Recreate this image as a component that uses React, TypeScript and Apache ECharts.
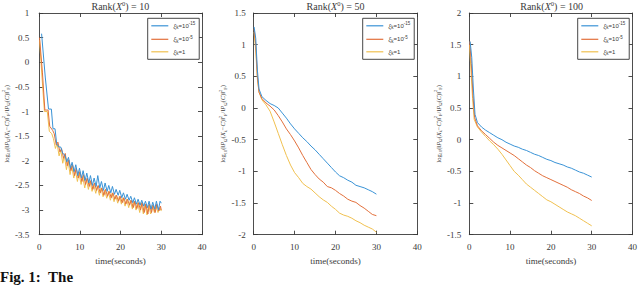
import React, { useEffect, useRef } from 'react';
import * as echarts from 'echarts';

const xTicks = { min: 0, max: 40, interval: 10 };
const panelRanks = ['10', '50', '100'];
const yRanges = [
  { min: -3.5, max: 1 },
  { min: -2, max: 1.5 },
  { min: -1.5, max: 2 },
];
const seriesNames = ['xi15', 'xi5', 'xi1'];
const legendLabels: Record<string, string> = {
  xi15: '{g|ξ}{s|k}{n|=10}{p|-15}',
  xi5: '{g|ξ}{s|k}{n|=10}{p|-5}',
  xi1: '{g|ξ}{s|k}{n|=1}',
};
const colors = ['#3a93d6', '#e2703c', '#f0c050'];

const r10Blue = [[0.6,0.58],[1.5,-0.3],[2.3,-0.95],[3.0,-0.95],[3.4,-1.35],[3.9,-1.35],[4.3,-1.65],[4.8,-1.72],[5.3,-1.72],[5.8,-1.85],[6.3,-1.88],[6.8,-2.02],[7.2,-1.93],[7.7,-2.15],[8.1,-2.03],[8.6,-2.22],[9.0,-2.08],[9.5,-2.3],[9.9,-2.15],[10.4,-2.35],[10.8,-2.2],[11.3,-2.4],[11.7,-2.25],[12.2,-2.45],[12.6,-2.3],[13.1,-2.5],[13.5,-2.35],[14.0,-2.52],[14.4,-2.3],[14.9,-2.55],[15.3,-2.42],[15.8,-2.6],[16.2,-2.45],[16.7,-2.62],[17.1,-2.5],[17.6,-2.65],[18.0,-2.52],[18.5,-2.68],[18.9,-2.58],[19.4,-2.7],[19.8,-2.6],[20.3,-2.75],[20.7,-2.65],[21.2,-2.78],[21.6,-2.68],[22.1,-2.8],[22.5,-2.72],[23.0,-2.85],[23.4,-2.75],[23.9,-2.88],[24.3,-2.78],[24.8,-2.9],[25.2,-2.8],[25.7,-2.92],[26.1,-2.82],[26.6,-2.95],[27.0,-2.82],[27.5,-2.98],[27.9,-2.84],[28.4,-2.98],[28.8,-2.82],[29.3,-3.0],[29.7,-2.82],[30.0,-2.86]];
const r10Orange = [[0.1,0.5],[0.8,-0.2],[1.4,-0.97],[2.2,-0.97],[2.6,-1.3],[3.3,-1.38],[3.7,-1.45],[4.2,-1.68],[4.6,-1.62],[5.1,-1.82],[5.5,-1.75],[6.0,-1.95],[6.4,-1.85],[6.9,-2.1],[7.3,-1.98],[7.8,-2.2],[8.2,-2.08],[8.7,-2.3],[9.1,-2.15],[9.6,-2.35],[10.0,-2.22],[10.5,-2.42],[10.9,-2.28],[11.4,-2.48],[11.8,-2.35],[12.3,-2.52],[12.7,-2.4],[13.2,-2.58],[13.6,-2.45],[14.1,-2.6],[14.5,-2.5],[15.0,-2.65],[15.4,-2.55],[15.9,-2.7],[16.3,-2.58],[16.8,-2.72],[17.2,-2.62],[17.7,-2.75],[18.1,-2.65],[18.6,-2.78],[19.0,-2.7],[19.5,-2.82],[19.9,-2.72],[20.4,-2.85],[20.8,-2.75],[21.3,-2.88],[21.7,-2.78],[22.2,-2.9],[22.6,-2.8],[23.1,-2.95],[23.5,-2.82],[24.0,-2.97],[24.4,-2.85],[24.9,-3.0],[25.3,-2.85],[25.8,-3.05],[26.2,-2.88],[26.7,-3.08],[27.1,-2.88],[27.6,-3.05],[28.0,-2.9],[28.5,-3.05],[28.9,-2.88],[29.4,-3.02],[29.8,-2.92],[30.0,-3.0]];
const r10Yellow = [[0.1,0.45],[0.7,-0.3],[1.3,-1.0],[2.0,-1.0],[2.5,-1.4],[3.1,-1.45],[3.5,-1.55],[4.0,-1.75],[4.4,-1.65],[4.9,-1.9],[5.3,-1.78],[5.8,-2.05],[6.2,-1.9],[6.7,-2.18],[7.1,-2.0],[7.6,-2.28],[8.0,-2.1],[8.5,-2.35],[8.9,-2.2],[9.4,-2.42],[9.8,-2.25],[10.3,-2.48],[10.7,-2.32],[11.2,-2.55],[11.6,-2.38],[12.1,-2.58],[12.5,-2.42],[13.0,-2.62],[13.4,-2.48],[13.9,-2.66],[14.3,-2.52],[14.8,-2.7],[15.2,-2.55],[15.7,-2.73],[16.1,-2.6],[16.6,-2.76],[17.0,-2.62],[17.5,-2.8],[17.9,-2.66],[18.4,-2.83],[18.8,-2.7],[19.3,-2.86],[19.7,-2.72],[20.2,-2.88],[20.6,-2.75],[21.1,-2.92],[21.5,-2.78],[22.0,-2.95],[22.4,-2.8],[22.9,-2.98],[23.3,-2.82],[23.8,-3.0],[24.2,-2.85],[24.7,-3.05],[25.1,-2.85],[25.6,-3.08],[26.0,-2.88],[26.5,-3.1],[26.9,-2.9],[27.4,-3.08],[27.8,-2.9],[28.3,-3.05],[28.7,-2.92],[29.2,-3.05],[29.6,-2.95],[30.0,-3.02]];

const r50Blue = [[0.1,1.28],[0.5,1.1],[0.9,0.6],[1.3,0.3],[2,0.18],[3,0.12],[4,0.07],[5,0.04],[6,0.0],[7,-0.08],[8,-0.16],[9,-0.25],[10,-0.33],[11,-0.4],[12,-0.47],[13,-0.53],[14,-0.6],[15,-0.66],[16,-0.73],[17,-0.8],[18,-0.87],[19,-0.94],[20,-1.01],[21,-1.07],[22,-1.1],[23,-1.14],[24,-1.17],[25,-1.22],[26,-1.24],[27,-1.26],[28,-1.29],[29,-1.32],[30,-1.36]];
const r50Orange = [[0.1,1.25],[0.5,1.0],[0.9,0.5],[1.3,0.25],[2,0.15],[3,0.08],[4,0.03],[5,-0.03],[6,-0.12],[7,-0.22],[8,-0.33],[9,-0.42],[10,-0.52],[11,-0.63],[12,-0.75],[13,-0.86],[14,-0.97],[15,-1.05],[16,-1.12],[17,-1.17],[18,-1.24],[19,-1.26],[20,-1.3],[21,-1.35],[22,-1.39],[23,-1.44],[24,-1.47],[25,-1.49],[26,-1.54],[27,-1.58],[28,-1.63],[29,-1.68],[30,-1.7]];
const r50Yellow = [[0.1,1.2],[0.5,0.9],[0.9,0.45],[1.3,0.25],[2,0.13],[3,0.05],[4,-0.05],[5,-0.22],[6,-0.4],[7,-0.58],[8,-0.75],[9,-0.9],[10,-1.02],[11,-1.1],[12,-1.19],[13,-1.24],[14,-1.28],[15,-1.34],[16,-1.4],[17,-1.45],[18,-1.49],[19,-1.55],[20,-1.6],[21,-1.66],[22,-1.69],[23,-1.71],[24,-1.74],[25,-1.78],[26,-1.81],[27,-1.85],[28,-1.88],[29,-1.91],[30,-1.96]];

const r100Blue = [[0.2,1.55],[0.6,1.3],[1.0,0.8],[1.4,0.4],[2,0.27],[3,0.2],[4,0.15],[5,0.11],[6,0.07],[7,0.03],[8,0.0],[9,-0.04],[10,-0.07],[11,-0.1],[12,-0.12],[13,-0.15],[14,-0.17],[15,-0.2],[16,-0.23],[17,-0.25],[18,-0.28],[19,-0.31],[20,-0.33],[21,-0.36],[22,-0.38],[23,-0.4],[24,-0.43],[25,-0.45],[26,-0.48],[27,-0.51],[28,-0.53],[29,-0.56],[30,-0.59]];
const r100Orange = [[0.1,1.55],[0.5,1.2],[0.9,0.7],[1.3,0.35],[2,0.22],[3,0.14],[4,0.08],[5,0.02],[6,-0.04],[7,-0.09],[8,-0.13],[9,-0.17],[10,-0.21],[11,-0.25],[12,-0.3],[13,-0.35],[14,-0.4],[15,-0.44],[16,-0.49],[17,-0.53],[18,-0.57],[19,-0.6],[20,-0.63],[21,-0.66],[22,-0.69],[23,-0.72],[24,-0.75],[25,-0.79],[26,-0.82],[27,-0.85],[28,-0.89],[29,-0.92],[30,-0.96]];
const r100Yellow = [[0.05,1.5],[0.4,1.1],[0.8,0.65],[1.2,0.32],[2,0.2],[3,0.12],[4,0.05],[5,-0.02],[6,-0.08],[7,-0.15],[8,-0.23],[9,-0.32],[10,-0.41],[11,-0.5],[12,-0.56],[13,-0.63],[14,-0.7],[15,-0.75],[16,-0.8],[17,-0.85],[18,-0.9],[19,-0.95],[20,-0.98],[21,-1.02],[22,-1.06],[23,-1.1],[24,-1.14],[25,-1.17],[26,-1.2],[27,-1.24],[28,-1.28],[29,-1.32],[30,-1.36]];

const panelData = [
  [r10Blue, r10Orange, r10Yellow],
  [r50Blue, r50Orange, r50Yellow],
  [r100Blue, r100Orange, r100Yellow],
];

const SERIF = "'Liberation Serif', 'DejaVu Serif', serif";
const AXIS_COLOR = '#3a3a3a';
const TEXT_COLOR = '#3a3a3a';

const grids = [
  { left: 38.7, width: 163.3 },
  { left: 253.7, width: 163.6 },
  { left: 469.3, width: 164.7 },
];
const gridTop = 13;
const gridHeight = 221.7;
const yLabelMargins = [10, 8, 8];
const legendBoxes = [
  { left: 147.7, top: 18.3 },
  { left: 362.7, top: 18.3 },
  { left: 577.7, top: 18.3 },
];

const yNameRich = {
  t: { fontSize: 6.5, fontFamily: SERIF, fontWeight: 'normal', color: TEXT_COLOR, lineHeight: 10 },
  i: { fontSize: 6.5, fontFamily: SERIF, fontWeight: 'normal', fontStyle: 'italic', color: TEXT_COLOR, lineHeight: 10 },
  s: { fontSize: 4.5, fontFamily: SERIF, fontWeight: 'normal', color: TEXT_COLOR, verticalAlign: 'bottom', lineHeight: 10 },
  p: { fontSize: 4.5, fontFamily: SERIF, fontWeight: 'normal', color: TEXT_COLOR, verticalAlign: 'top', lineHeight: 10 },
};
const yName =
  '{t|log}{s|10}{t|(‖}{i|P}{s|Ω}{t|(}{i|X}{s|k}{t|−}{i|C}{t|)‖}{p|2}{s|F}{t|/‖}{i|P}{s|Ω}{t|(}{i|C}{t|)‖}{p|2}{s|F}{t|)}';

export default function App() {
  const ref = useRef<HTMLDivElement>(null);
  useEffect(() => {
    if (!ref.current) return;
    const chart = echarts.init(ref.current, undefined, { renderer: 'svg' });

    const gridOpt: any[] = [];
    const xAxes: any[] = [];
    const yAxes: any[] = [];
    const series: any[] = [];
    const legends: any[] = [];
    const titles: any[] = [];

    grids.forEach((g, i) => {
      gridOpt.push({ left: g.left, width: g.width, top: gridTop, height: gridHeight, containLabel: false });
      const axisLine = { show: true, onZero: false, lineStyle: { color: AXIS_COLOR, width: 0.9 } };
      const axisTick = { show: true, inside: true, length: 4, lineStyle: { color: AXIS_COLOR, width: 0.9 } };
      xAxes.push({
        type: 'value', gridIndex: i, position: 'bottom', ...xTicks,
        axisLine, axisTick, splitLine: { show: false },
        axisLabel: { color: TEXT_COLOR, fontFamily: SERIF, fontSize: 9, margin: 8 },
        name: 'time(seconds)', nameLocation: 'middle', nameGap: 18,
        nameTextStyle: { color: TEXT_COLOR, fontFamily: SERIF, fontSize: 9, fontWeight: 'normal' },
      });
      xAxes.push({
        type: 'value', gridIndex: i, position: 'top', ...xTicks,
        axisLine, axisTick, splitLine: { show: false }, axisLabel: { show: false },
      });
      yAxes.push({
        type: 'value', gridIndex: i, position: 'left', ...yRanges[i], interval: 0.5,
        axisLine, axisTick, splitLine: { show: false },
        axisLabel: { color: TEXT_COLOR, fontFamily: SERIF, fontSize: 9, margin: yLabelMargins[i] },
        name: yName, nameLocation: 'middle', nameGap: 25, nameRotate: 90,
        nameTextStyle: { fontWeight: 'normal', rich: yNameRich },
      });
      yAxes.push({
        type: 'value', gridIndex: i, position: 'right', ...yRanges[i], interval: 0.5,
        axisLine, axisTick, splitLine: { show: false }, axisLabel: { show: false },
      });
      panelData[i].forEach((d, k) => {
        series.push({
          type: 'line', name: seriesNames[k], xAxisIndex: 2 * i, yAxisIndex: 2 * i,
          data: d, showSymbol: false, symbol: 'none',
          lineStyle: { color: colors[k], width: 1 }, itemStyle: { color: colors[k] },
          z: 3 - k,
        });
      });
      legends.push({
        left: legendBoxes[i].left, top: legendBoxes[i].top, orient: 'vertical',
        data: seriesNames, itemWidth: 17, itemHeight: 8, itemGap: 4.5,
        padding: [3, 4, 3, 3], borderColor: '#333', borderWidth: 0.9, backgroundColor: '#fff',
        itemStyle: { opacity: 0, borderWidth: 0 },
        lineStyle: { width: 1.2, opacity: 1 },
        formatter: (n: string) => legendLabels[n],
        textStyle: {
          fontSize: 6, color: TEXT_COLOR,
          rich: {
            g: { fontSize: 7, fontStyle: 'italic', fontFamily: SERIF, color: TEXT_COLOR, lineHeight: 9 },
            s: { fontSize: 4.5, color: TEXT_COLOR, verticalAlign: 'bottom', lineHeight: 9 },
            n: { fontSize: 6, color: TEXT_COLOR, lineHeight: 9 },
            p: { fontSize: 4.5, color: TEXT_COLOR, verticalAlign: 'top', lineHeight: 9 },
          },
        },
        selectedMode: false,
      });
      titles.push({
        text: `{r|Rank(}{x|X}{p|0}{r|) = ${panelRanks[i]}}`,
        left: g.left + g.width / 2, top: 0, textAlign: 'center', padding: 0,
        textStyle: {
          fontWeight: 'normal',
          rich: {
            r: { fontSize: 10, fontFamily: SERIF, fontWeight: 'normal', color: TEXT_COLOR, lineHeight: 12 },
            x: { fontSize: 10, fontFamily: SERIF, fontWeight: 'normal', fontStyle: 'italic', color: TEXT_COLOR, lineHeight: 12 },
            p: { fontSize: 6.5, fontFamily: SERIF, fontWeight: 'normal', color: TEXT_COLOR, verticalAlign: 'top', lineHeight: 12 },
          },
        },
      });
    });

    chart.setOption({
      animation: false,
      backgroundColor: '#ffffff',
      grid: gridOpt,
      xAxis: xAxes,
      yAxis: yAxes,
      series,
      legend: legends,
      title: titles,
      graphic: [
        {
          type: 'text', left: 0, top: 269,
          style: {
            text: '{b|Fig. 1:}{r|  The}',
            rich: {
              b: { fontSize: 15, fontWeight: 'bold', fontFamily: SERIF, fill: '#111', lineHeight: 17 },
              r: { fontSize: 15, fontWeight: 'bold', fontFamily: SERIF, fill: '#111', lineHeight: 17 },
            },
          },
        },
      ],
    });
    return () => chart.dispose();
  }, []);
  return <div ref={ref} style={{ position: 'absolute', left: 0, top: 0, width: 640, height: 287 }} />;
}
